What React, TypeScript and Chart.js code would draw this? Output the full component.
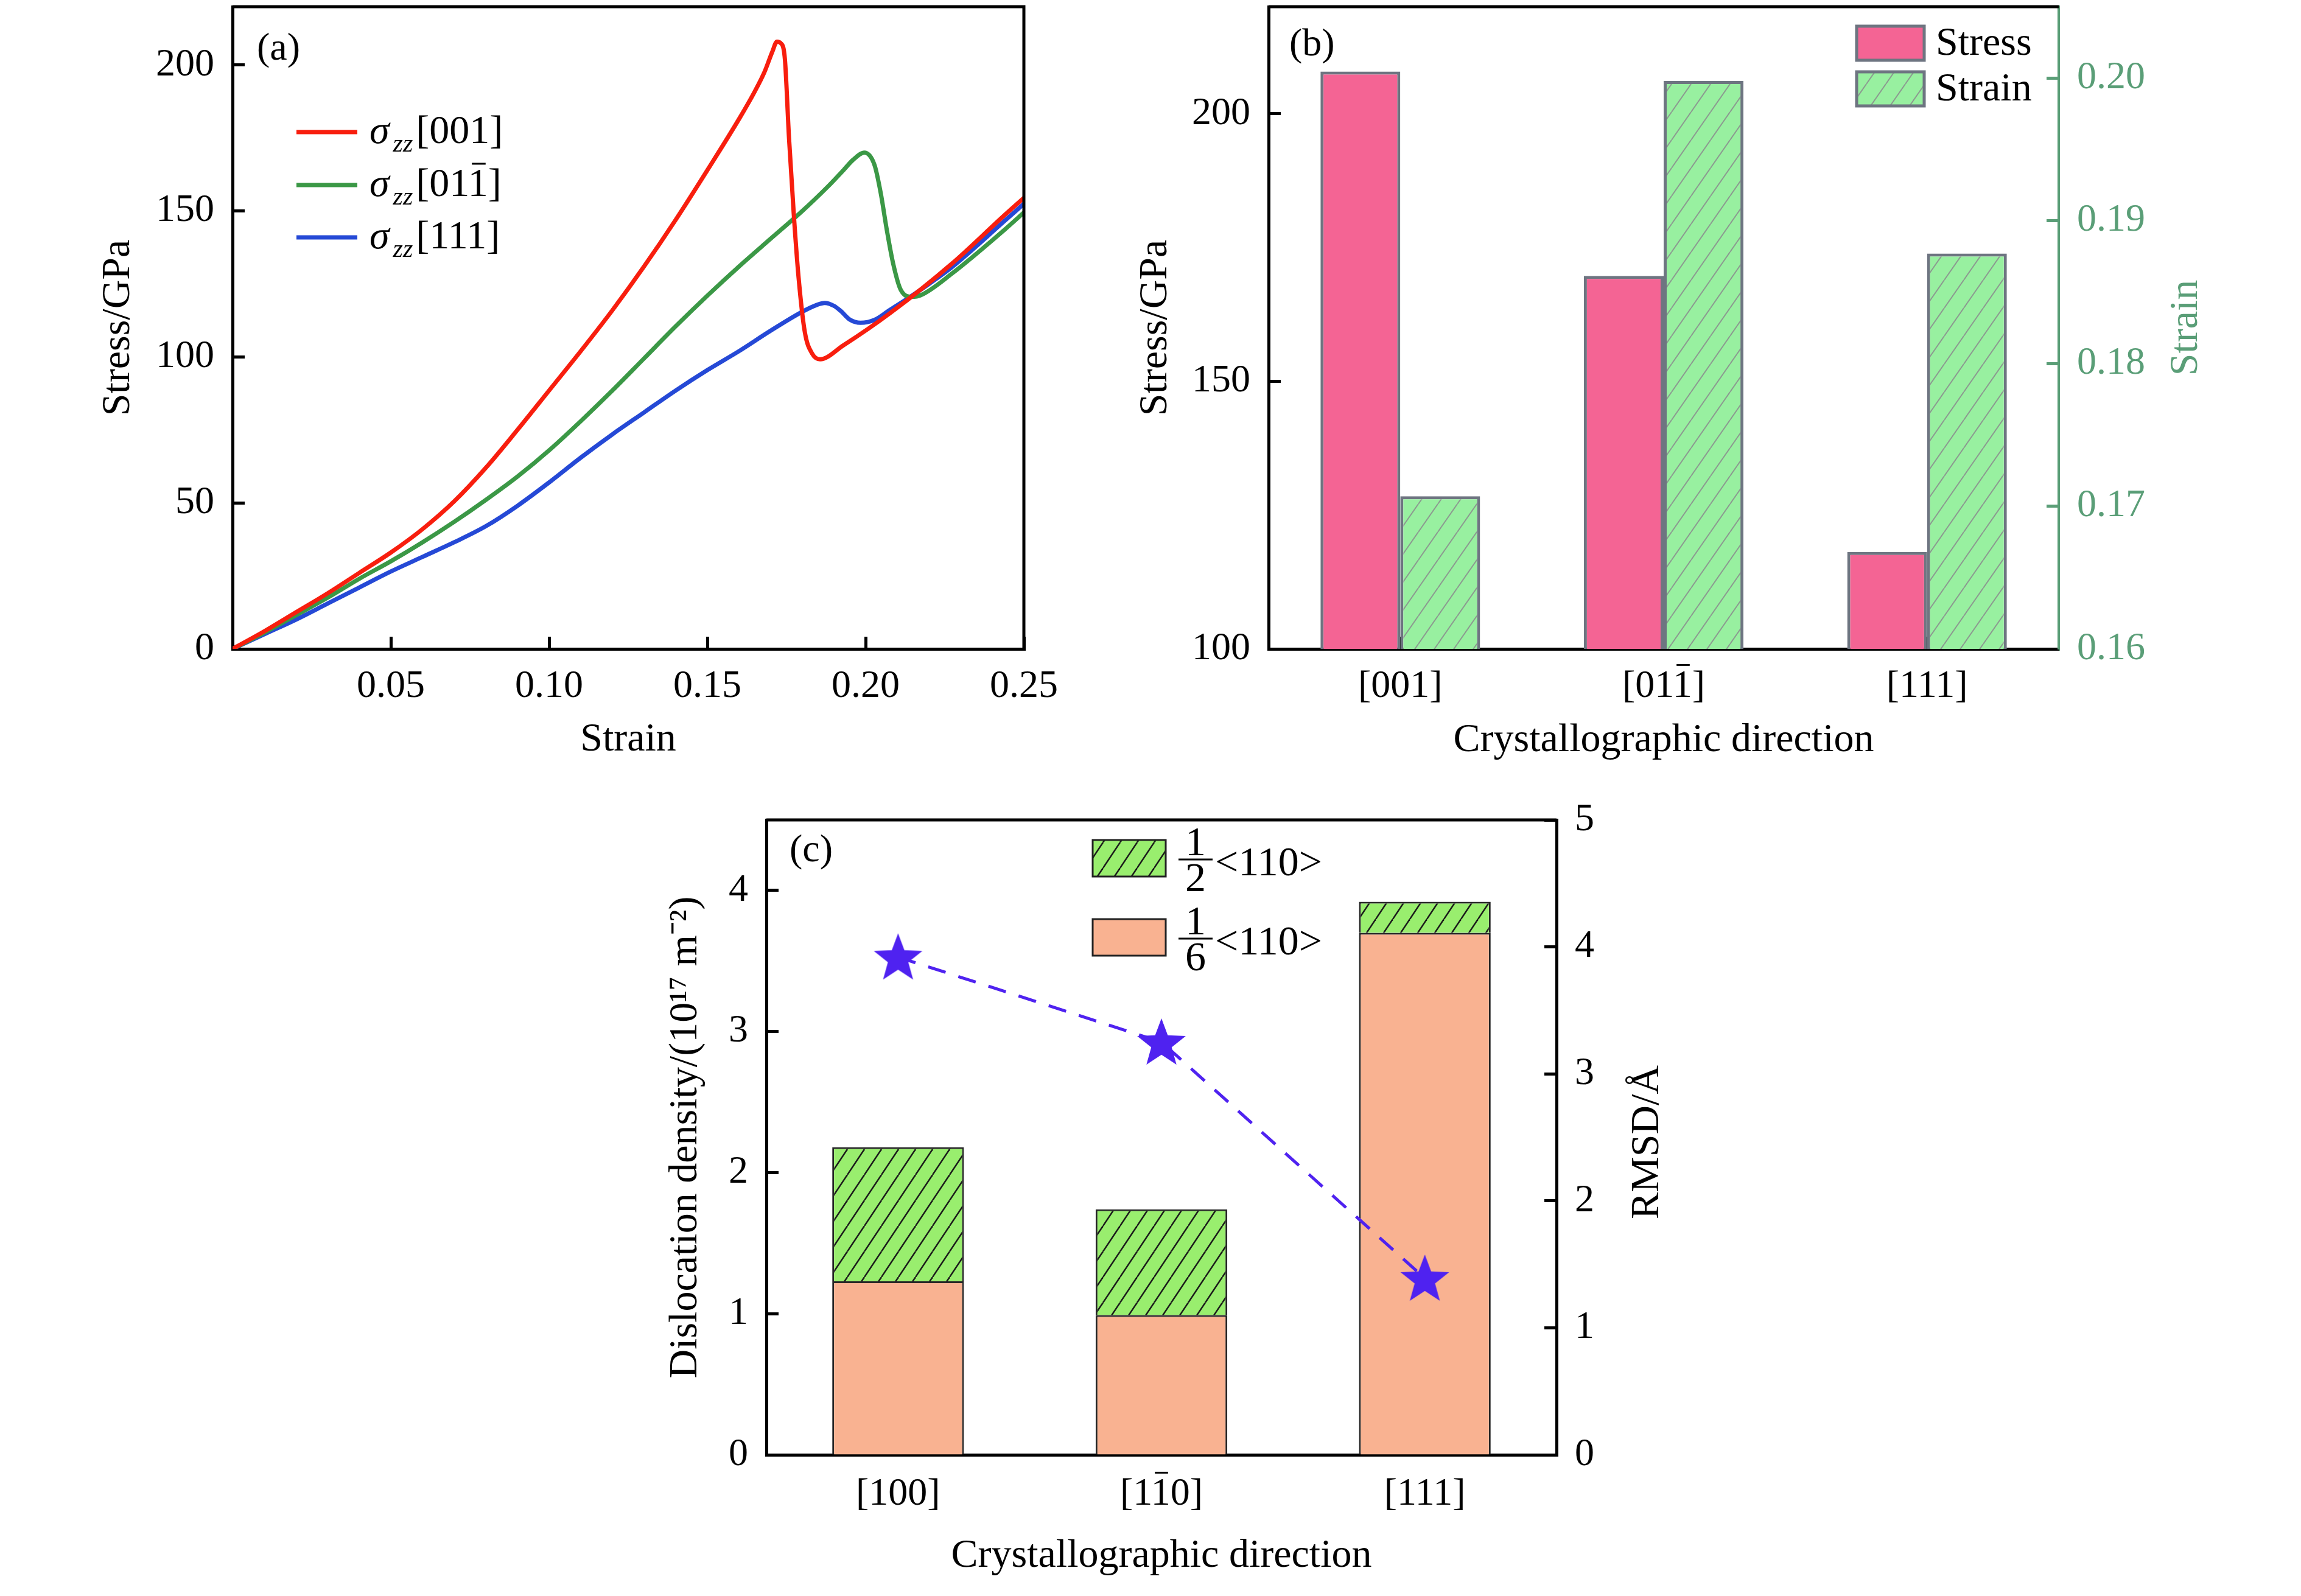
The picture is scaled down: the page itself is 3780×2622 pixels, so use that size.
import React, { useEffect, useRef } from 'react';
import { Chart, registerables } from 'chart.js';

Chart.register(...registerables);

const SERIF = "'Liberation Serif', 'Times New Roman', serif";

// ---------- Panel (a): stress–strain curves ----------
const strain001 = [0, 0.01, 0.02, 0.03, 0.04, 0.05, 0.06, 0.07, 0.08, 0.09, 0.10, 0.11, 0.12, 0.13, 0.14, 0.15, 0.16, 0.165, 0.168, 0.1705, 0.172, 0.1732, 0.1745, 0.1758, 0.1773, 0.1788, 0.1808, 0.1832, 0.1856, 0.193, 0.2077, 0.2273, 0.2438, 0.25];
const stress001 = [0, 6, 12.5, 19, 26, 33, 41, 50.5, 62, 75, 88.5, 102, 116, 131, 147, 164, 181.5, 191, 197.5, 204.5, 208, 207.5, 202, 175, 149, 127.5, 108.5, 101, 99.2, 104, 115, 132, 148.5, 154.5];

const strain011 = [0, 0.01, 0.02, 0.03, 0.04, 0.05, 0.06, 0.07, 0.08, 0.09, 0.10, 0.11, 0.12, 0.13, 0.14, 0.15, 0.16, 0.17, 0.18, 0.188, 0.193, 0.196, 0.1996, 0.2028, 0.2048, 0.2067, 0.2087, 0.2111, 0.2146, 0.2175, 0.2273, 0.2438, 0.25];
const stress011 = [0, 5.5, 11.5, 17.5, 24, 30, 36.5, 43.5, 51, 59, 68, 78, 88.5, 99.5, 110.5, 121, 131, 140.5, 150, 158.3, 164, 167.5, 170, 165.8, 156, 143.5, 132, 123, 120.6, 121.2, 128.6, 143.5, 149.5];

const strain111 = [0, 0.01, 0.02, 0.03, 0.04, 0.05, 0.06, 0.07, 0.08, 0.09, 0.10, 0.11, 0.12, 0.13, 0.14, 0.15, 0.16, 0.17, 0.18, 0.1845, 0.1871, 0.19, 0.1921, 0.195, 0.1984, 0.2028, 0.2075, 0.2127, 0.22, 0.2273, 0.2438, 0.25];
const stress111 = [0, 5, 10, 15.5, 21, 26.5, 31.5, 36.5, 42, 49, 57, 65.5, 73.5, 81, 88.5, 95.5, 102, 109, 115.5, 117.8, 118.5, 117.5, 115.8, 112.8, 111.7, 112.7, 116, 119.6, 125, 130.8, 146.5, 152.5];

const legendDirsA = ['[001]', '[011]', '[111]'];
const legendBarIdxA = [-1, 3, -1];

// ---------- Panel (b): peak stress / strain ----------
const dirsB = ['[001]', '[011]', '[111]'];
const barIdxB = [-1, 3, -1];
const peakStress = [207.9, 169.7, 118.1];
const peakStrain = [0.1707, 0.1998, 0.1877];

// ---------- Panel (c): dislocation density & RMSD ----------
const dirsC = ['[100]', '[110]', '[111]'];
const barIdxC = [-1, 2, -1];
const density16 = [1.23, 0.99, 3.70];
const density12 = [0.95, 0.75, 0.22];
const rmsdValues = [3.92, 3.25, 1.39];

// ---------- styles ----------
const RED = '#F81E0E';
const GREEN = '#3B9846';
const BLUE = '#2549D6';
const PINK = '#F46494';
const LIGHTGREEN_B = '#98F0A0';
const EDGE_B = '#6E7581';
const AXIS_GREEN = '#5A9E77';
const ORANGE = '#F9B291';
const LIGHTGREEN_C = '#99EE6E';
const STAR = '#4F22F0';

const TICK_FONT = { family: SERIF, size: 64, lineHeight: 1.2 };
const TITLE_FONT = { family: SERIF, size: 66, lineHeight: 1.2 };

function makeHatch(bg: string, line: string, w: number, h: number, lw: number) {
  const c = document.createElement('canvas');
  c.width = w;
  c.height = h;
  const g = c.getContext('2d')!;
  g.fillStyle = bg;
  g.fillRect(0, 0, w, h);
  g.strokeStyle = line;
  g.lineWidth = lw;
  for (const k of [-1, 0, 1]) {
    g.beginPath();
    g.moveTo(k * w, h);
    g.lineTo(k * w + w, 0);
    g.stroke();
  }
  return g.createPattern(c, 'repeat')!;
}

function makeStar(r: number, color: string) {
  const s = Math.ceil(r * 2 + 6);
  const c = document.createElement('canvas');
  c.width = s;
  c.height = s;
  const g = c.getContext('2d')!;
  g.fillStyle = color;
  g.beginPath();
  for (let i = 0; i < 10; i++) {
    const a = -Math.PI / 2 + (i * Math.PI) / 5;
    const rr = i % 2 === 0 ? r : r * 0.42;
    g.lineTo(s / 2 + rr * Math.cos(a), s / 2 + 3 + rr * Math.sin(a));
  }
  g.closePath();
  g.fill();
  return c;
}

function overline(ctx: CanvasRenderingContext2D, text: string, idx: number, cx: number, topY: number, fontPx: number, color: string) {
  ctx.save();
  ctx.font = `${fontPx}px ${SERIF}`;
  const w = ctx.measureText(text).width;
  const left = cx - w / 2;
  const x0 = left + ctx.measureText(text.slice(0, idx)).width;
  const x1 = left + ctx.measureText(text.slice(0, idx + 1)).width;
  ctx.strokeStyle = color;
  ctx.lineWidth = 3;
  ctx.beginPath();
  ctx.moveTo(x0 + 4, topY);
  ctx.lineTo(x1 - 4, topY);
  ctx.stroke();
  ctx.restore();
}

function tickGrid(color: string) {
  return { display: true, drawOnChartArea: false, offset: false, tickLength: -20, tickWidth: 5, tickColor: color };
}

function fixWidth(w: number) {
  return (s: any) => {
    s.width = w;
    s.paddingTop = 0;
    s.paddingBottom = 0;
  };
}

function fixHeight(h: number) {
  return (s: any) => {
    s.height = h;
    s.paddingLeft = 0;
    s.paddingRight = 0;
  };
}

// ---------- Panel (a) ----------
function makeA(canvas: HTMLCanvasElement) {
  const pts = (xs: number[], ys: number[]) => xs.map((x, i) => ({ x, y: ys[i] }));
  const colors = [RED, GREEN, BLUE];
  const plugin = {
    id: 'panelA',
    afterDraw(chart: any) {
      const { ctx, chartArea: ca } = chart;
      ctx.save();
      ctx.strokeStyle = '#000';
      ctx.lineWidth = 5;
      ctx.beginPath();
      ctx.moveTo(ca.left, ca.top);
      ctx.lineTo(ca.right, ca.top);
      ctx.lineTo(ca.right, ca.bottom);
      ctx.stroke();
      ctx.fillStyle = '#000';
      ctx.font = `64px ${SERIF}`;
      ctx.textBaseline = 'alphabetic';
      ctx.fillText('(a)', 422, 98);
      const rows = [217, 304, 390];
      legendDirsA.forEach((d, i) => {
        const y = rows[i];
        ctx.strokeStyle = colors[i];
        ctx.lineWidth = 7;
        ctx.beginPath();
        ctx.moveTo(487, y);
        ctx.lineTo(587, y);
        ctx.stroke();
        const base = y + 18;
        let x = 607;
        ctx.fillStyle = '#000';
        ctx.textAlign = 'left';
        ctx.font = `italic 66px ${SERIF}`;
        ctx.fillText('σ', x, base);
        x += ctx.measureText('σ').width + 6;
        ctx.font = `italic 42px ${SERIF}`;
        ctx.fillText('zz', x, base + 14);
        x += ctx.measureText('zz').width + 5;
        ctx.font = `66px ${SERIF}`;
        ctx.fillText(d, x, base);
        if (legendBarIdxA[i] >= 0) {
          const w = ctx.measureText(d).width;
          overline(ctx, d, legendBarIdxA[i], x + w / 2, base - 53, 66, '#000');
        }
      });
      ctx.restore();
    },
  };
  return new Chart(canvas, {
    type: 'line',
    data: {
      datasets: [
        { label: 'σzz[001]', data: pts(strain001, stress001), borderColor: RED },
        { label: 'σzz[011]', data: pts(strain011, stress011), borderColor: GREEN },
        { label: 'σzz[111]', data: pts(strain111, stress111), borderColor: BLUE },
      ].map((d) => ({ ...d, borderWidth: 7, pointRadius: 0, fill: false, cubicInterpolationMode: 'monotone' as const })),
    },
    options: {
      animation: false,
      responsive: false,
      devicePixelRatio: 1,
      layout: { padding: { left: 155, right: 118, top: 11, bottom: 45 } },
      plugins: { legend: { display: false }, tooltip: { enabled: false } },
      scales: {
        x: {
          type: 'linear',
          min: 0,
          max: 0.25,
          afterFit: fixHeight(189),
          ticks: { stepSize: 0.05, includeBounds: false, padding: 44, color: '#000', font: TICK_FONT, maxRotation: 0, autoSkip: false, callback: (v: any) => (Math.abs(v) < 1e-9 ? '' : Number(v).toFixed(2)) },
          grid: tickGrid('#000'),
          border: { display: true, color: '#000', width: 5 },
          title: { display: true, text: 'Strain', font: TITLE_FONT, color: '#000', padding: 0 },
        },
        y: {
          min: 0,
          max: 220,
          afterFit: fixWidth(227),
          ticks: { stepSize: 50, includeBounds: false, padding: 50, color: '#000', font: TICK_FONT },
          grid: tickGrid('#000'),
          border: { display: true, color: '#000', width: 5 },
          title: { display: true, text: 'Stress/GPa', font: TITLE_FONT, color: '#000', padding: 0 },
        },
      },
    } as any,
    plugins: [plugin],
  });
}

// ---------- Panel (b) ----------
function makeB(canvas: HTMLCanvasElement) {
  const hatch = makeHatch(LIGHTGREEN_B, '#8C9A90', 32, 46, 2);
  const plugin = {
    id: 'panelB',
    afterDraw(chart: any) {
      const { ctx, chartArea: ca } = chart;
      ctx.save();
      ctx.strokeStyle = '#000';
      ctx.lineWidth = 5;
      ctx.beginPath();
      ctx.moveTo(ca.left, ca.top);
      ctx.lineTo(ca.right, ca.top);
      ctx.stroke();
      ctx.fillStyle = '#000';
      ctx.font = `64px ${SERIF}`;
      ctx.textAlign = 'left';
      ctx.textBaseline = 'alphabetic';
      ctx.fillText('(b)', 268, 91);
      // legend
      const items = [
        { y: 43, fill: PINK, text: 'Stress' },
        { y: 118, fill: hatch, text: 'Strain' },
      ];
      items.forEach((it) => {
        ctx.fillStyle = it.fill;
        ctx.fillRect(1200, it.y, 111, 56);
        ctx.strokeStyle = EDGE_B;
        ctx.lineWidth = 5;
        ctx.strokeRect(1200, it.y, 111, 56);
        ctx.fillStyle = '#000';
        ctx.font = `66px ${SERIF}`;
        ctx.textBaseline = 'middle';
        ctx.fillText(it.text, 1330, it.y + 30);
      });
      // right axis title
      ctx.translate(1742, (ca.top + ca.bottom) / 2);
      ctx.rotate(-Math.PI / 2);
      ctx.textAlign = 'center';
      ctx.textBaseline = 'middle';
      ctx.fillStyle = AXIS_GREEN;
      ctx.font = `66px ${SERIF}`;
      ctx.fillText('Strain', 0, 0);
      ctx.restore();
      // overlines in tick labels
      const xs = chart.scales.x;
      const cy = xs.top - 20 + 44 + 38.4;
      dirsB.forEach((d, i) => {
        if (barIdxB[i] >= 0) overline(ctx, d, barIdxB[i], xs.getPixelForTick(i), cy - 36, 64, '#000');
      });
    },
  };
  return new Chart(canvas, {
    type: 'bar',
    data: {
      labels: dirsB,
      datasets: [
        { label: 'Stress', data: peakStress, yAxisID: 'y', backgroundColor: PINK },
        { label: 'Strain', data: peakStrain, yAxisID: 'y1', backgroundColor: hatch },
      ].map((d) => ({ ...d, borderColor: EDGE_B, borderWidth: 5, categoryPercentage: 0.606, barPercentage: 1 })),
    },
    options: {
      animation: false,
      responsive: false,
      devicePixelRatio: 1,
      layout: { padding: { left: 9, right: 148, top: 11, bottom: 44 } },
      plugins: { legend: { display: false }, tooltip: { enabled: false } },
      scales: {
        x: {
          afterFit: fixHeight(190),
          ticks: { padding: 44, color: '#000', font: TICK_FONT, maxRotation: 0, autoSkip: false },
          grid: tickGrid('#000'),
          border: { display: true, color: '#000', width: 5 },
          title: { display: true, text: 'Crystallographic direction', font: TITLE_FONT, color: '#000', padding: 0 },
        },
        y: {
          position: 'left',
          min: 100,
          max: 220,
          afterFit: fixWidth(225),
          ticks: { stepSize: 50, includeBounds: false, padding: 50, color: '#000', font: TICK_FONT },
          grid: tickGrid('#000'),
          border: { display: true, color: '#000', width: 5 },
          title: { display: true, text: 'Stress/GPa', font: TITLE_FONT, color: '#000', padding: 0 },
        },
        y1: {
          position: 'right',
          min: 0.16,
          max: 0.205,
          afterFit: fixWidth(250),
          ticks: { stepSize: 0.01, includeBounds: false, padding: 50, color: AXIS_GREEN, font: TICK_FONT, callback: (v: any) => Number(v).toFixed(2) },
          grid: tickGrid(AXIS_GREEN),
          border: { display: true, color: AXIS_GREEN, width: 4 },
          title: { display: false },
        },
      },
    } as any,
    plugins: [plugin],
  });
}

// ---------- Panel (c) ----------
function makeC(canvas: HTMLCanvasElement) {
  const hatch = makeHatch(LIGHTGREEN_C, '#1a1a1a', 28, 42, 2.5);
  const star = makeStar(42, STAR);
  const plugin = {
    id: 'panelC',
    afterDraw(chart: any) {
      const { ctx, chartArea: ca } = chart;
      ctx.save();
      ctx.strokeStyle = '#000';
      ctx.lineWidth = 5;
      ctx.beginPath();
      ctx.moveTo(ca.left, ca.top);
      ctx.lineTo(ca.right, ca.top);
      ctx.stroke();
      ctx.fillStyle = '#000';
      ctx.font = `64px ${SERIF}`;
      ctx.textAlign = 'left';
      ctx.textBaseline = 'alphabetic';
      ctx.fillText('(c)', 297, 115);
      // legend with fractions
      const items = [
        { y: 80, fill: hatch, den: '2' },
        { y: 210, fill: ORANGE, den: '6' },
      ];
      items.forEach((it) => {
        ctx.fillStyle = it.fill;
        ctx.fillRect(795, it.y, 120, 60);
        ctx.strokeStyle = '#222';
        ctx.lineWidth = 3;
        ctx.strokeRect(795, it.y, 120, 60);
        const barY = it.y + 32;
        ctx.strokeStyle = '#000';
        ctx.lineWidth = 3;
        ctx.beginPath();
        ctx.moveTo(936, barY);
        ctx.lineTo(992, barY);
        ctx.stroke();
        ctx.fillStyle = '#000';
        ctx.font = `68px ${SERIF}`;
        ctx.textAlign = 'center';
        ctx.textBaseline = 'alphabetic';
        ctx.fillText('1', 964, barY - 7);
        ctx.fillText(it.den, 964, barY + 52);
        ctx.textAlign = 'left';
        ctx.fillText('<110>', 996, barY + 26);
      });
      // right axis title
      ctx.translate(1707, (ca.top + ca.bottom) / 2 + 8);
      ctx.rotate(-Math.PI / 2);
      ctx.textAlign = 'center';
      ctx.textBaseline = 'middle';
      ctx.fillStyle = '#000';
      ctx.font = `66px ${SERIF}`;
      ctx.fillText('RMSD/Å', 0, 0);
      ctx.restore();
      const xs = chart.scales.x;
      const cy = xs.top - 20 + 47 + 38.4;
      dirsC.forEach((d, i) => {
        if (barIdxC[i] >= 0) overline(ctx, d, barIdxC[i], xs.getPixelForTick(i), cy - 36, 64, '#000');
      });
    },
  };
  return new Chart(canvas, {
    type: 'bar',
    data: {
      labels: dirsC,
      datasets: [
        {
          type: 'line',
          label: 'RMSD',
          data: rmsdValues,
          yAxisID: 'y1',
          order: 0,
          borderColor: STAR,
          borderWidth: 5,
          borderDash: [30, 22],
          pointStyle: star,
          pointRadius: 42,
          tension: 0,
          fill: false,
        },
        { label: '1/6<110>', data: density16, yAxisID: 'y', order: 1, backgroundColor: ORANGE, borderColor: '#262626', borderWidth: 3, categoryPercentage: 1, barPercentage: 0.5 },
        { label: '1/2<110>', data: density12, yAxisID: 'y', order: 1, backgroundColor: hatch, borderColor: '#262626', borderWidth: 3, categoryPercentage: 1, barPercentage: 0.5 },
      ],
    } as any,
    options: {
      animation: false,
      responsive: false,
      devicePixelRatio: 1,
      layout: { padding: { left: 87, right: 153, top: 36, bottom: 26 } },
      plugins: { legend: { display: false }, tooltip: { enabled: false } },
      scales: {
        x: {
          stacked: true,
          afterFit: fixHeight(206),
          ticks: { padding: 47, color: '#000', font: TICK_FONT, maxRotation: 0, autoSkip: false },
          grid: tickGrid('#000'),
          border: { display: true, color: '#000', width: 5 },
          title: { display: true, text: 'Crystallographic direction', font: TITLE_FONT, color: '#000', padding: 0 },
        },
        y: {
          stacked: true,
          position: 'left',
          min: 0,
          max: 4.5,
          afterFit: fixWidth(172),
          ticks: { stepSize: 1, includeBounds: false, padding: 50, color: '#000', font: TICK_FONT },
          grid: tickGrid('#000'),
          border: { display: true, color: '#000', width: 5 },
          title: { display: true, text: 'Dislocation density/(10¹⁷ m⁻²)', font: TITLE_FONT, color: '#000', padding: 0 },
        },
        y1: {
          stacked: false,
          position: 'right',
          min: 0,
          max: 5,
          afterFit: fixWidth(190),
          ticks: { stepSize: 1, padding: 50, color: '#000', font: TICK_FONT },
          grid: tickGrid('#000'),
          border: { display: true, color: '#000', width: 5 },
          title: { display: false },
        },
      },
    } as any,
    plugins: [plugin],
  });
}

function ChartCanvas({ make, left, top, width, height }: { make: (c: HTMLCanvasElement) => Chart; left: number; top: number; width: number; height: number }) {
  const ref = useRef<HTMLCanvasElement | null>(null);
  useEffect(() => {
    const chart = make(ref.current!);
    return () => chart.destroy();
  }, [make]);
  return <canvas ref={ref} width={width} height={height} style={{ position: 'absolute', left, top, width, height }} />;
}

export default function App() {
  return (
    <div style={{ position: 'absolute', left: 0, top: 0, width: 3780, height: 2622, background: '#fff', overflow: 'hidden' }}>
      <ChartCanvas make={makeA} left={0} top={0} width={1800} height={1300} />
      <ChartCanvas make={makeB} left={1850} top={0} width={1930} height={1300} />
      <ChartCanvas make={makeC} left={1000} top={1300} width={1900} height={1322} />
    </div>
  );
}
